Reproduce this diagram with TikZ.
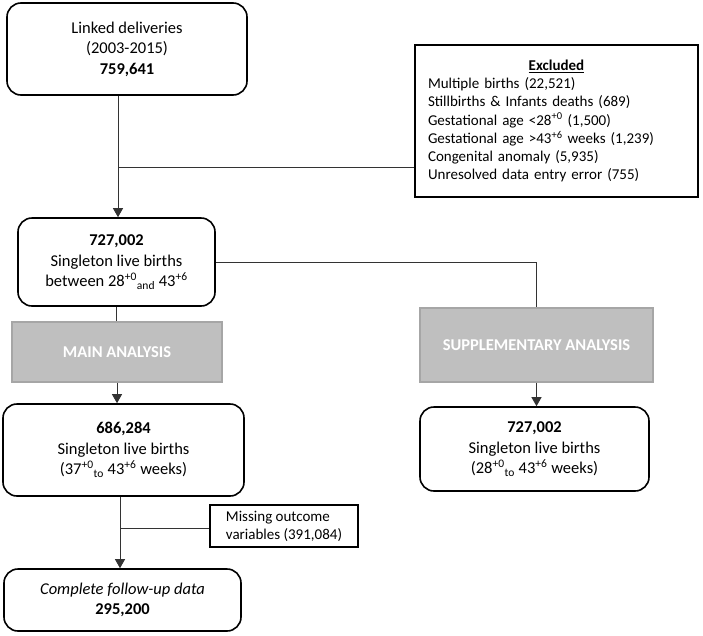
\documentclass[tikz,border=0pt]{standalone}
\usepackage{fontspec}
\setmainfont{Carlito}
\usepackage{tikz}
\usetikzlibrary{positioning,arrows.meta}

\begin{document}
\begin{tikzpicture}[x=1pt,y=-1pt,
    rbox/.style={draw, line width=1.6pt, rounded corners=14pt, align=center, inner sep=0pt,
        font=\fontsize{16.5}{20.5}\selectfont},
    sqbox/.style={draw, line width=1.6pt, inner sep=0pt, font=\fontsize{15}{18.2}\selectfont},
    greybox/.style={draw=black!35, fill=black!25, line width=1.3pt, inner sep=0pt, text=white,
        font=\fontsize{16.5}{20.5}\selectfont\bfseries},
    link/.style={draw=black!80, line width=0.9pt},
    arr/.style={link, -{Triangle[width=10pt,length=9pt]}}]
    \useasboundingbox (0,0) rectangle (703,635);

    % Boxes
    \node[rbox, minimum width=240, minimum height=92] (deliv) at (127,49)
        {Linked deliveries\\(2003-2015)\\\textbf{759,641}};
    \node[sqbox, text width=257pt, inner xsep=13pt, minimum height=152, align=left] (excl) at (556.5,121)
        {{\centering\underline{\textbf{Excluded}}\par}
         Multiple births (22,521)\\
         Stillbirths \& Infants deaths (689)\\
         Gestational age <28\textsuperscript{+0} (1,500)\\
         Gestational age >43\textsuperscript{+6} weeks (1,239)\\
         Congenital anomaly (5,935)\\
         Unresolved data entry error (755)};
    \node[rbox, minimum width=197, minimum height=88] (single) at (116.5,262)
        {\textbf{727,002}\\Singleton live births\\between 28\textsuperscript{+0}\textsubscript{and} 43\textsuperscript{+6}};
    \node[greybox, minimum width=210, minimum height=60] (mainan) at (117,352) {MAIN ANALYSIS};
    \node[greybox, minimum width=233, minimum height=74] (suppan) at (536.5,345) {SUPPLEMENTARY ANALYSIS};
    \node[rbox, minimum width=241, minimum height=92] (term) at (123.5,450)
        {\textbf{686,284}\\Singleton live births\\(37\textsuperscript{+0}\textsubscript{to} 43\textsuperscript{+6} weeks)};
    \node[rbox, minimum width=229, minimum height=84] (allterm) at (534.5,449)
        {\textbf{727,002}\\Singleton live births\\(28\textsuperscript{+0}\textsubscript{to} 43\textsuperscript{+6} weeks)};
    \node[sqbox, minimum width=148, minimum height=42, align=left] (miss) at (284,526)
        {Missing outcome\\variables (391,084)};
    \node[rbox, minimum width=237, minimum height=62] (follow) at (122.5,600)
        {\textit{Complete follow-up data}\\\textbf{295,200}};

    % Connectors
    \coordinate (exj) at (118,167);
    \coordinate (msj) at (120,528);
    \draw[arr] (deliv.south -| exj) -- (exj |- single.north);
    \draw[link] (exj) -- (exj -| excl.west);
    \draw[link] (single.south) -- (single.south |- mainan.north);
    \draw[arr] (mainan.south) -- (mainan.south |- term.north);
    \draw[link] (single.east) -| (suppan.north);
    \draw[arr] (suppan.south) -- (suppan.south |- allterm.north);
    \draw[arr] (term.south -| msj) -- (msj |- follow.north);
    \draw[link] (msj) -- (msj -| miss.west);
\end{tikzpicture}
\end{document}
